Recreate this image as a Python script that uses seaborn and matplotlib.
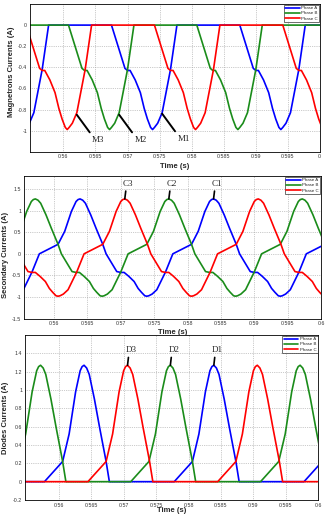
import numpy as np
import pandas as pd
import matplotlib
matplotlib.use('Agg')
import matplotlib.pyplot as plt
import seaborn as sns

sns.set_style('whitegrid')
plt.rcParams['font.family'] = ['Liberation Sans', 'DejaVu Sans']

phases = ['Phase A', 'Phase B', 'Phase C']
colors = ['#0000ff', '#1a8c1a', '#ff0000']

# one cycle of the secondary current, time relative to the positive peak (s), value (A)
sec_dt = [-0.0100, -0.0097, -0.0092, -0.0085, -0.0072, -0.0061, -0.0033, -0.0023, -0.0013,
          -0.0006, -0.0003, 0.0, 0.0004, 0.0008, 0.0016, 0.0024, 0.0034, 0.0039, 0.0055,
          0.0061, 0.0066, 0.0073, 0.0081, 0.0087, 0.0092, 0.0097]
sec_val = [-0.98, -0.97, -0.93, -0.83, -0.42, 0.0, 0.22, 0.52, 0.98,
           1.21, 1.255, 1.27, 1.24, 1.17, 0.90, 0.59, 0.22, 0.0, -0.41,
           -0.43, -0.43, -0.52, -0.64, -0.80, -0.89, -0.97]

# magnetron pulse, time relative to its minimum
mag_dt = [-0.0064, -0.0043, -0.0039, -0.0035, -0.0027, -0.0019, -0.0013, -0.0008, -0.0003,
          0.0, 0.0003, 0.0008, 0.0015, 0.0028, 0.0038]
mag_val = [0.0, -0.41, -0.43, -0.43, -0.52, -0.64, -0.79, -0.89, -0.97,
           -0.99, -0.97, -0.93, -0.83, -0.42, 0.0]

# diode pulse, time relative to its peak
dio_dt = [-0.0061, -0.0033, -0.0023, -0.0013, -0.0006, -0.0003, 0.0, 0.0004, 0.0008,
          0.0016, 0.0024, 0.0034, 0.0039]
dio_val = [0.0, 0.22, 0.52, 0.98, 1.21, 1.255, 1.27, 1.24, 1.17,
           0.90, 0.59, 0.22, 0.0]

# peak / minimum times
peak_a = [0.5439, 0.5639, 0.5839, 0.6039]
peak_b = [0.5372, 0.5572, 0.5772, 0.5972, 0.6172]
peak_c = [0.5506, 0.5706, 0.5906, 0.6106]
min_a = [0.5539, 0.5739, 0.5939, 0.6139]
min_b = [0.5472, 0.5672, 0.5872, 0.6072]
min_c = [0.5406, 0.5606, 0.5806, 0.6006]

# labels
m_names = ['M3', 'M2', 'M1']
m_times = [0.5621, 0.5687, 0.5754]
m_vals = [-0.85, -0.85, -0.84]
c_names = ['C3', 'C2', 'C1']
c_times = [0.5706, 0.5772, 0.5839]
d_names = ['D3', 'D2', 'D1']
d_times = [0.5706, 0.5772, 0.5839]
peak_val = 1.27

x_ticks = [0.56, 0.565, 0.57, 0.575, 0.58, 0.585, 0.59, 0.595, 0.6]
x_labels = ['0.56', '0.565', '0.57', '0.575', '0.58', '0.585', '0.59', '0.595', '0.6']
mag_ticks = [-1, -0.8, -0.6, -0.4, -0.2, 0]
mag_labels = ['-1', '-0.8', '-0.6', '-0.4', '-0.2', '0']
sec_ticks = [-1.5, -1, -0.5, 0, 0.5, 1, 1.5]
sec_labels = ['-1.5', '-1', '-0.5', '0', '0.5', '1', '1.5']
dio_ticks = [-0.2, 0, 0.2, 0.4, 0.6, 0.8, 1, 1.2, 1.4]
dio_labels = ['-0.2', '0', '0.2', '0.4', '0.6', '0.8', '1', '1.2', '1.4']


def build(centres, dt, val, phase):
    t, v = [], []
    for c in centres:
        t += [c + d for d in dt]
        v += val
    return pd.DataFrame({'t': t, 'i': v, 'phase': phase})


sec = pd.concat([build(peak_a, sec_dt, sec_val, 'Phase A'),
                 build(peak_b, sec_dt, sec_val, 'Phase B'),
                 build(peak_c, sec_dt, sec_val, 'Phase C')])
mag = pd.concat([build(min_a, mag_dt, mag_val, 'Phase A'),
                 build(min_b, mag_dt, mag_val, 'Phase B'),
                 build(min_c, mag_dt, mag_val, 'Phase C')])
dio = pd.concat([build(peak_a, dio_dt, dio_val, 'Phase A'),
                 build(peak_b, dio_dt, dio_val, 'Phase B'),
                 build(peak_c, dio_dt, dio_val, 'Phase C')])

W, H = 328, 516
fig = plt.figure(figsize=(W / 100, H / 100), dpi=100)


def px_axes(l, t, r, b):
    return fig.add_axes([l / W, 1 - b / H, (r - l) / W, (b - t) / H])


ax1 = px_axes(30, 4, 320, 151.7)
ax2 = px_axes(24, 176, 321, 318.7)
ax3 = px_axes(25, 335, 318.3, 500)

serif = 'Liberation Serif'


def style(ax, df, xlim, ylim, yt, ylab, ylabel, ylabel_pos, xlabel_y=-0.075, xlab=x_labels):
    sns.lineplot(data=df, x='t', y='i', hue='phase', hue_order=phases, palette=colors,
                 estimator=None, sort=False, linewidth=1.2, ax=ax)
    ax.set_xlim(*xlim)
    ax.set_ylim(*ylim)
    ax.set_xticks(x_ticks)
    ax.set_xticklabels(xlab)
    ax.set_yticks(yt)
    ax.set_yticklabels(ylab)
    ax.tick_params(length=0, labelsize=3.8, pad=2, colors='#333333')
    ax.grid(True, linestyle=':', color='#999999', linewidth=0.5)
    for s in ax.spines.values():
        s.set_color('black')
        s.set_linewidth(0.6)
    ax.set_xlabel('Time (s)', fontsize=5.5, fontweight='bold')
    ax.set_ylabel(ylabel, fontsize=5.5, fontweight='bold')
    ax.xaxis.set_label_coords(0.5, xlabel_y)
    ax.yaxis.set_label_coords(*ylabel_pos)
    sns.move_legend(ax, 'upper right', title=None, fontsize=3.2, frameon=True, fancybox=False,
                    edgecolor='black', borderaxespad=0.15, handlelength=3.2, labelspacing=0.25,
                    borderpad=0.3, handletextpad=0.4)
    leg = ax.get_legend()
    leg.get_frame().set_linewidth(0.5)
    for line in leg.get_lines():
        line.set_linewidth(1.2)


style(ax1, mag, (0.5548, 0.6), (-1.2, 0.2), mag_ticks, mag_labels,
      'Magnetrons Currents (A)', (-0.052, 0.54),
      xlab=x_labels[:-1] + ['0.'])
style(ax2, sec, (0.5555, 0.6), (-1.5, 1.8), sec_ticks, sec_labels,
      'Secondary Currents (A)', (-0.05, 0.446))
style(ax3, dio, (0.5548, 0.6), (-0.2, 1.6), dio_ticks, dio_labels,
      'Diodes Currents (A)', (-0.055, 0.50), xlabel_y=-0.045)
ax3.xaxis.label.set_va('top')

for name, t, v in zip(m_names, m_times, m_vals):
    ax1.annotate(name, xy=(t, v), xytext=(11, -15), textcoords='offset points',
                 ha='left', va='top', fontsize=6.5, family=serif,
                 arrowprops=dict(arrowstyle='-', color='black', lw=1.4,
                                 shrinkA=0, shrinkB=0, relpos=(0, 1)))

for ax, names, times in [(ax2, c_names, c_times), (ax3, d_names, d_times)]:
    for name, t in zip(names, times):
        ax.annotate(name, xy=(t, peak_val), xytext=(2.5, 8), textcoords='offset points',
                    ha='center', va='bottom', fontsize=6.5, family=serif,
                    arrowprops=dict(arrowstyle='-', color='black', lw=1.2,
                                    shrinkA=0, shrinkB=0, relpos=(0.3, 0)))

fig.savefig('out.png', dpi=100, facecolor='white')
